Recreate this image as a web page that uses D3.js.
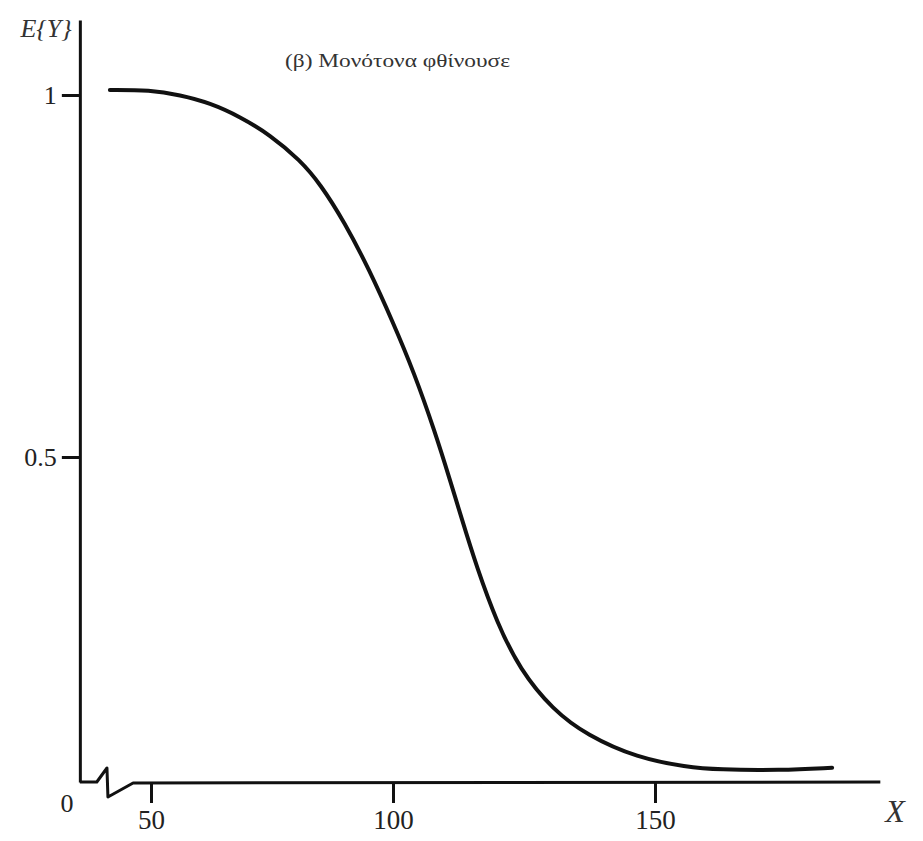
<!DOCTYPE html>
<html lang="el">
<head>
    <meta charset="UTF-8">
    <title>E{Y} - Μονότονα φθίνουσε</title>
    <style>
        body { margin: 0; padding: 0; background: #fff; }
        #chart svg { display: block; }
        .tick text { font-family: "Liberation Serif", "DejaVu Serif", serif; fill: #222; }
    </style>
</head>
<body>
    <div id="chart"></div>
    <script src="https://d3js.org/d3.v7.min.js"></script>
    <script>
        // Curve (X, E{Y})
        const curveX = [41.5, 49.8, 56.0, 62.2, 68.4, 74.6, 80.8, 85.0, 90.0, 95.0, 100.0, 104.0, 108.0,
                        110.9, 113.0, 116.0, 119.8, 124.2, 130.5, 137.0, 146.6, 156.1, 162.0, 173.9, 183.8];
        const curveY = [1.007, 1.007, 1.000, 0.989, 0.970, 0.945, 0.910, 0.877, 0.824, 0.760, 0.686, 0.617, 0.535,
                        0.464, 0.408, 0.330, 0.246, 0.173, 0.111, 0.072, 0.037, 0.023, 0.019, 0.018, 0.022];

        const xTicks = [50, 100, 150];
        const yTicks = [0.5, 1];
        const xRange = [35.3, 193];   // extent of the X axis line
        const yTop = 1.104;           // top of the E{Y} axis line
        const title = '(β) Μονότονα φθίνουσε';

        const width = 923, height = 841;

        // the scanned figure is slightly uneven, so the scales are piecewise
        const x = d3.scaleLinear().domain([50, 100, 150]).range([151, 393, 655]);
        const y = d3.scaleLinear().domain([0, 0.5, 1, yTop]).range([782, 457, 95, 20]);

        const svg = d3.select('#chart').append('svg')
            .attr('width', width)
            .attr('height', height);

        svg.append('rect').attr('width', width).attr('height', height).attr('fill', '#fff');

        // Y axis
        const yAxis = svg.append('g')
            .attr('transform', `translate(${x(xRange[0])},0)`)
            .call(d3.axisLeft(y).tickValues(yTicks).tickFormat(d3.format('')).tickSize(18).tickSizeOuter(0).tickPadding(5));
        yAxis.select('.domain').attr('stroke', '#111').attr('stroke-width', 3);
        yAxis.selectAll('.tick line').attr('stroke', '#111').attr('stroke-width', 3);
        yAxis.selectAll('.tick text').attr('font-size', 26);

        // X axis (ticks only, the line is drawn with a break)
        const xAxis = svg.append('g')
            .attr('transform', `translate(0,${y(0)})`)
            .call(d3.axisBottom(x).tickValues(xTicks).tickSize(21).tickSizeOuter(0).tickPadding(7));
        xAxis.select('.domain').remove();
        xAxis.selectAll('.tick line').attr('stroke', '#111').attr('stroke-width', 3);
        xAxis.selectAll('.tick text').attr('font-size', 27);

        const y0 = y(0);
        const breakPath = d3.path();
        breakPath.moveTo(x(xRange[0]), y0);
        breakPath.lineTo(x(38.8), y0);
        breakPath.lineTo(x(40.9), y0 - 14);
        breakPath.lineTo(x(41.1), y0 + 15);
        breakPath.lineTo(x(46.3), y0 + 1);
        breakPath.lineTo(x(xRange[1]), y0);
        svg.append('path')
            .attr('d', breakPath.toString())
            .attr('fill', 'none')
            .attr('stroke', '#111')
            .attr('stroke-width', 3)
            .attr('stroke-linejoin', 'round');

        // curve
        const line = d3.line()
            .x(i => x(curveX[i]))
            .y(i => y(curveY[i]))
            .curve(d3.curveBasis);
        svg.append('path')
            .attr('d', line(d3.range(curveX.length)))
            .attr('fill', 'none')
            .attr('stroke', '#111')
            .attr('stroke-width', 4)
            .attr('stroke-linecap', 'round');

        // labels
        svg.append('text')
            .attr('x', 46).attr('y', 37)
            .attr('text-anchor', 'middle')
            .attr('font-family', '"Liberation Serif", serif')
            .attr('font-style', 'italic')
            .attr('font-size', 26)
            .attr('fill', '#333')
            .text('E{Y}');

        svg.append('text')
            .attr('x', 67).attr('y', 812)
            .attr('text-anchor', 'middle')
            .attr('font-family', '"Liberation Serif", serif')
            .attr('font-size', 26)
            .attr('fill', '#222')
            .text('0');

        svg.append('text')
            .attr('x', 895).attr('y', 822)
            .attr('text-anchor', 'middle')
            .attr('font-family', '"Liberation Serif", serif')
            .attr('font-style', 'italic')
            .attr('font-size', 32)
            .attr('fill', '#333')
            .text('X');

        svg.append('text')
            .attr('x', 285).attr('y', 67)
            .attr('font-family', '"Liberation Serif", serif')
            .attr('font-size', 19)
            .attr('fill', '#333')
            .attr('textLength', 225)
            .attr('lengthAdjust', 'spacingAndGlyphs')
            .text(title);
    </script>
</body>
</html>
